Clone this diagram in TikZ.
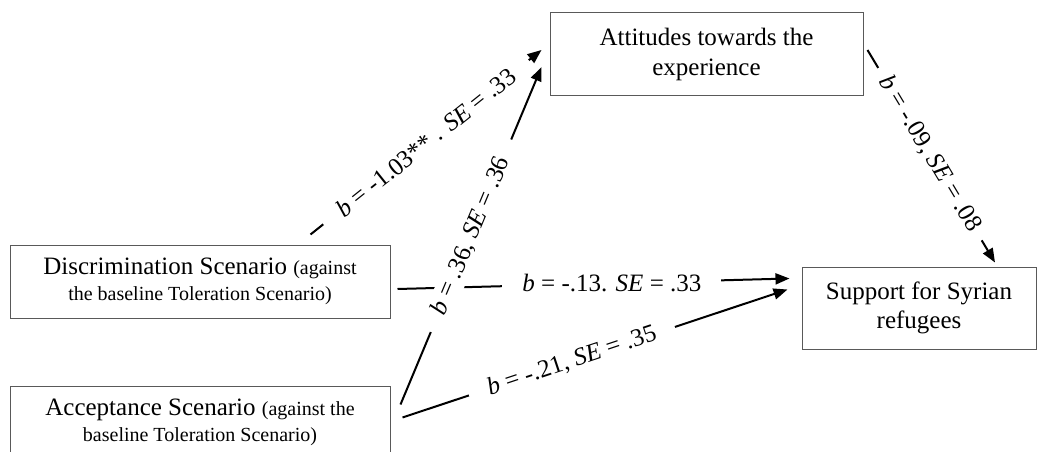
\documentclass[tikz,border=0pt]{standalone}
\usepackage{fontspec}
\setmainfont{Liberation Serif}
\usetikzlibrary{arrows.meta, calc}

\newcommand{\smallnote}[1]{{\fontsize{20}{26}\selectfont #1}}

\begin{document}
\begin{tikzpicture}[x=1pt, y=-1pt,
  box/.style={draw=black!65, line width=1pt, align=center, inner sep=0pt},
  lab/.style={fill=white, inner xsep=20pt, inner ysep=3pt, font=\fontsize{25}{29}\selectfont},
  arr/.style={-{Triangle[length=14pt, width=11pt]}, line width=2pt}]
\useasboundingbox (0,0) rectangle (1038,452);
% variables
\node[box, minimum width=313pt, minimum height=82pt, font=\fontsize{25}{30}\selectfont] (att) at (706.5,54)
  {Attitudes towards the\\experience};
\node[box, minimum width=234pt, minimum height=82pt, font=\fontsize{25}{29}\selectfont] (sup) at (919,308)
  {Support for Syrian\\refugees};
\node[box, minimum width=380pt, minimum height=73pt, font=\fontsize{25}{26}\selectfont] (disc) at (200,281.5)
  {Discrimination Scenario \smallnote{(against}\\\smallnote{the baseline Toleration Scenario)}};
\node[box, minimum width=380pt, minimum height=73pt, font=\fontsize{25}{26}\selectfont] (acc) at (200,422.5)
  {Acceptance Scenario \smallnote{(against the}\\\smallnote{baseline Toleration Scenario)}};
% paths, a path
\draw[arr] ($(disc.north east)+(-80,-10)$) -- ($(att.west)+(-8,-4)$)
  node[lab, sloped, pos=0.5] {\textit{b} = -1.03** . \textit{SE} = .33};
\draw[arr] ($(disc.east)+(7,7.5)$) -- ($(sup.north west)+(-12,12)$)
  node[lab, pos=0.547] {\textit{b} = -.13. \textit{SE} = .33};
\draw[arr] ($(acc.north east)+(10,19)$) -- ($(att.west)+(-8,13)$)
  node[lab, sloped, pos=0.5] {\textit{b} = .36, \textit{SE} = .36};
\draw[arr] ($(acc.north east)+(12,32)$) -- ($(sup.north west)+(-14,23)$)
  node[lab, sloped, pos=0.44] {\textit{b} = -.21, \textit{SE} = .35};
% path b
\draw[arr] ($(att.east)+(4,-4)$) -- ($(sup.north)+(76,-4)$)
  node[lab, sloped, pos=0.49, inner xsep=12pt] {\textit{b} = -.09, \textit{SE} = .08};
\end{tikzpicture}
\end{document}
